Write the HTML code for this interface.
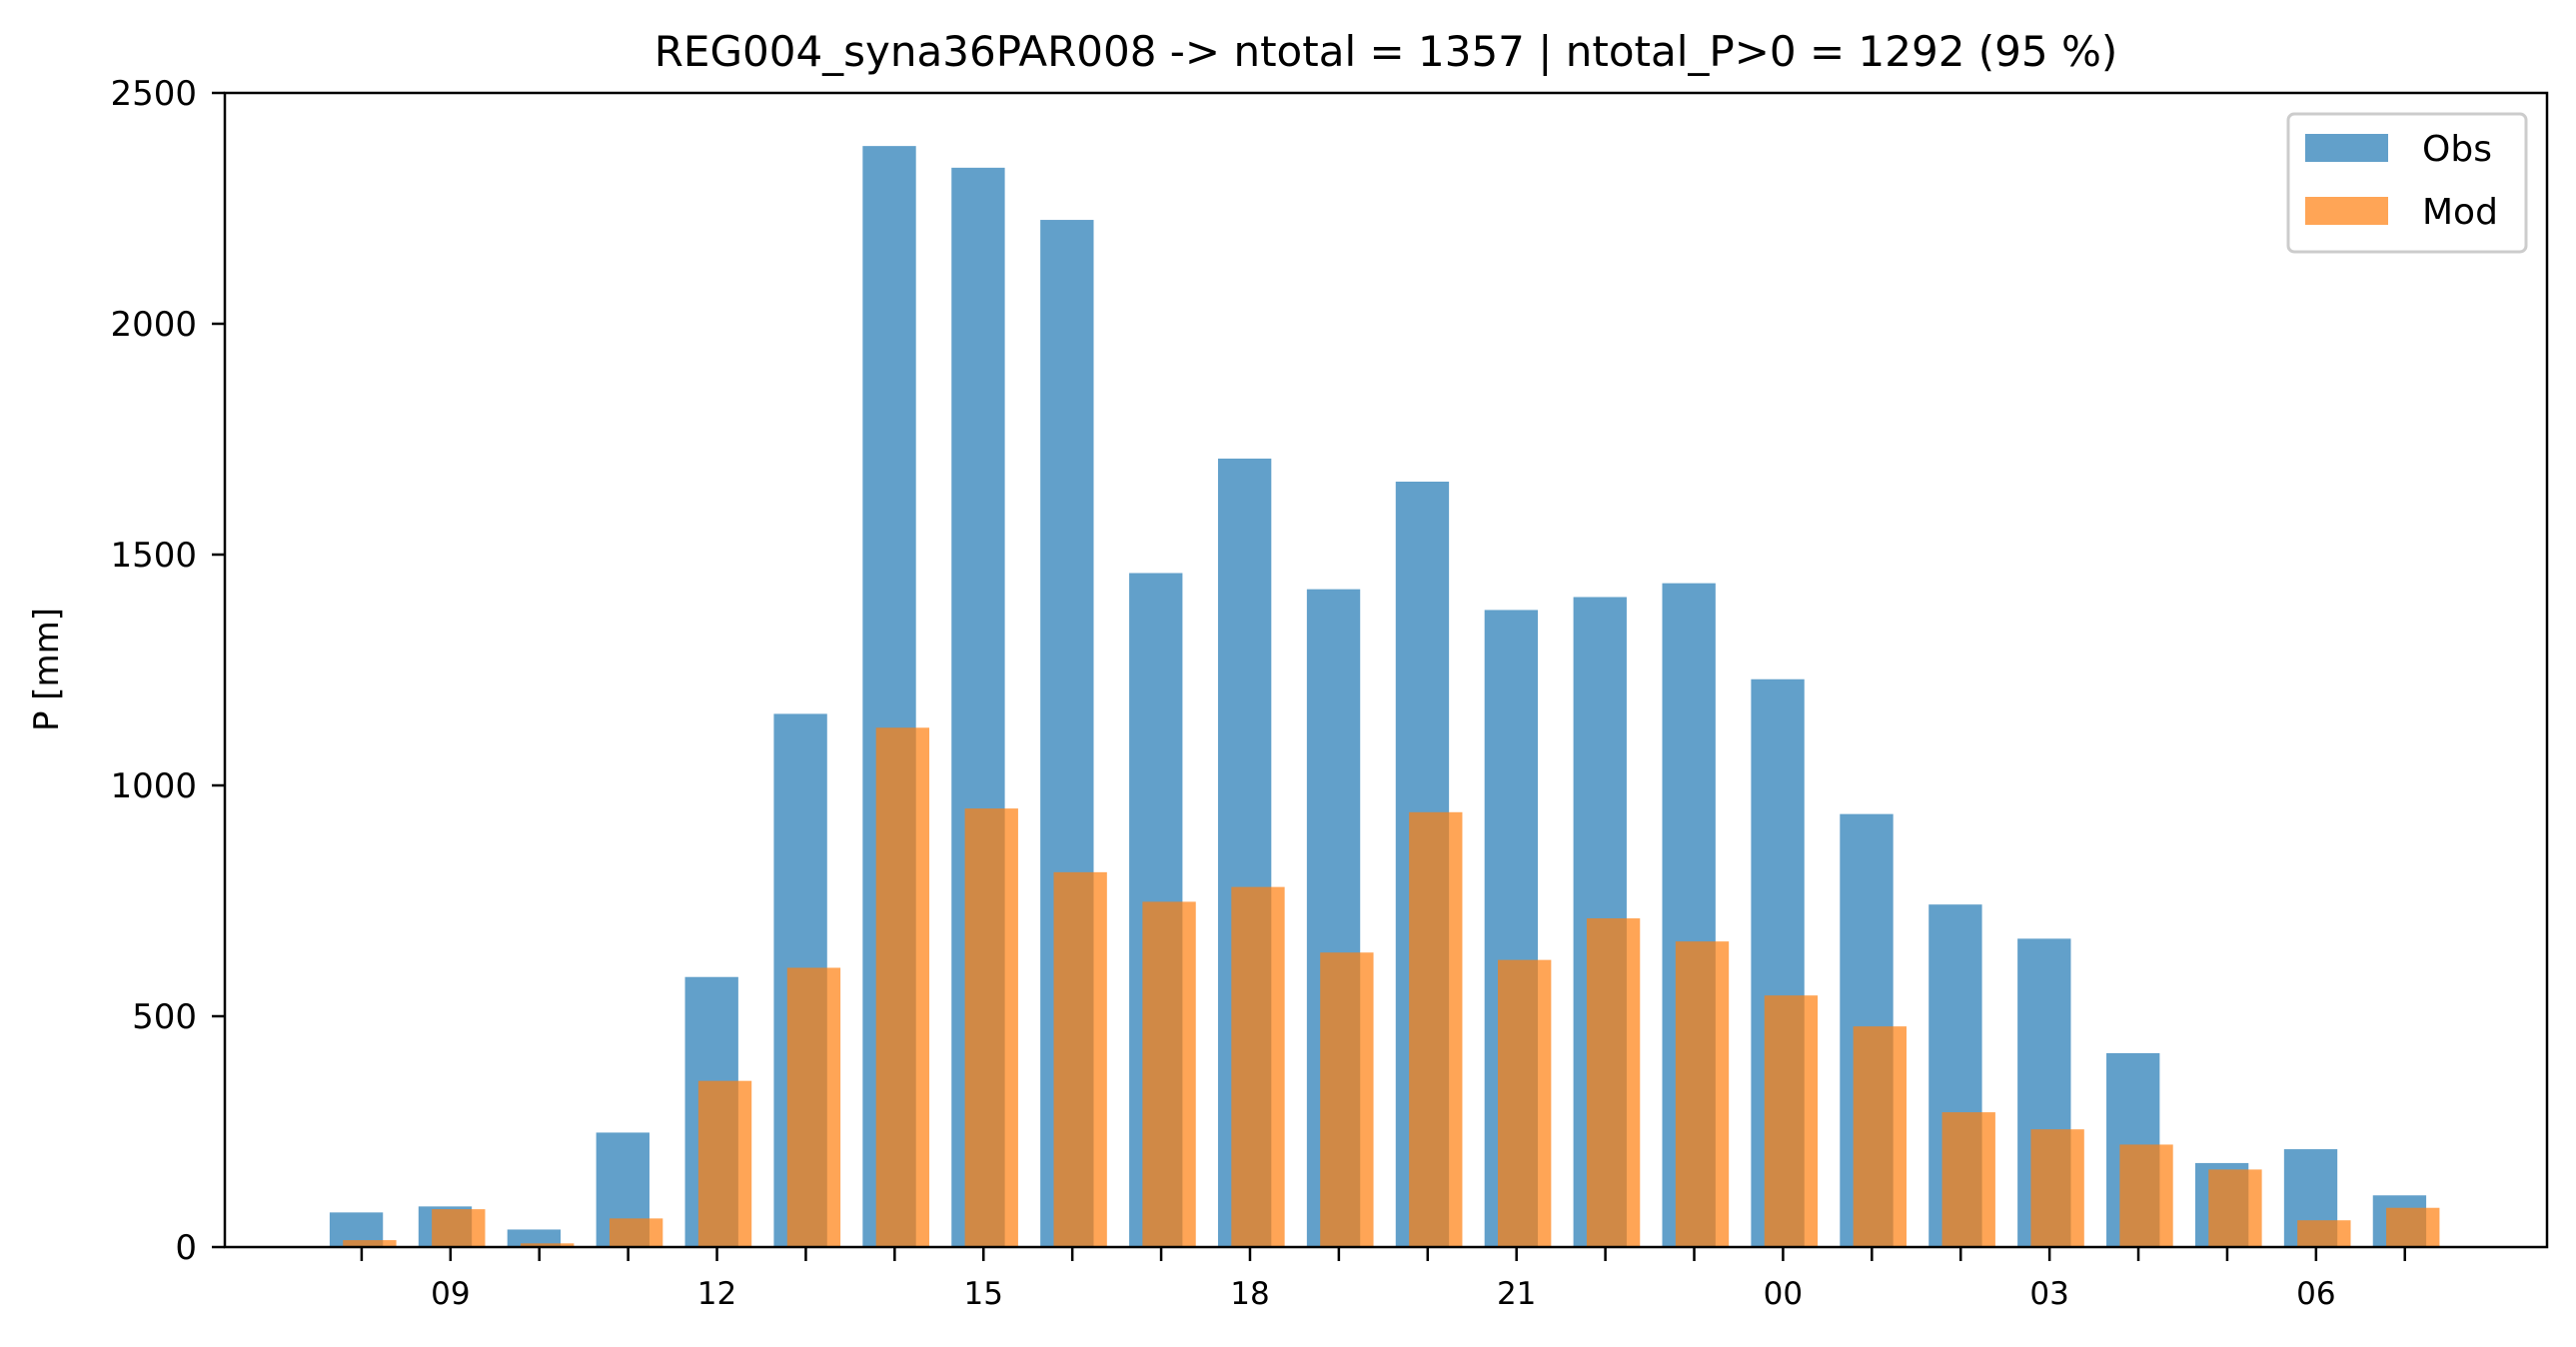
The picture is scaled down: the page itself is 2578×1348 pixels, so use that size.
<!DOCTYPE html>
<html><head><meta charset="utf-8"><style>
html,body{margin:0;padding:0;background:#fff;}
svg text{font-family:"DejaVu Sans","Liberation Sans",sans-serif;fill:#000;}
</style></head><body>
<svg id="chart" width="2578" height="1343" viewBox="0 0 2578 1343" xmlns="http://www.w3.org/2000/svg">
<rect width="2578" height="1343" fill="#fff"/>
<text x="1387" y="66" font-size="42" text-anchor="middle">REG004_syna36PAR008 -&gt; ntotal = 1357 | ntotal_P&gt;0 = 1292 (95 %)</text>
<text transform="translate(58,670) rotate(-90)" font-size="34" text-anchor="middle">P [mm]</text>
<g id="bars"></g>
<g id="axes"></g>
<g>
<rect x="2290" y="114" width="238" height="138" rx="6" fill="#fff" fill-opacity="0.8" stroke="#ccc" stroke-width="3"/>
<rect x="2307" y="134" width="83" height="28" fill="#1f77b4" fill-opacity="0.7"/>
<text x="2424" y="161" font-size="36">Obs</text>
<rect x="2307" y="197" width="83" height="28" fill="#ff7f0e" fill-opacity="0.7"/>
<text x="2424" y="224" font-size="36">Mod</text>
</g>
</svg>
<script>
const hours = ["08","09","10","11","12","13","14","15","16","17","18","19","20","21","22","23","00","01","02","03","04","05","06","07"];
const obsValues = [75,88,38,248,585,1155,2385,2338,2225,1460,1708,1425,1658,1380,1408,1438,1230,938,742,668,420,182,212,112];
const modValues = [15,82,8,62,360,605,1125,950,812,748,780,638,942,622,712,662,545,478,292,255,222,168,58,85];
const yTicks = [0,500,1000,1500,2000,2500];
const xLabelEvery = 3;

const L=225,R=2549,T=93,B=1248;
const xMin=-1.54,xMax=24.6,yMax=2500;
const xs=v=>L+(v-xMin)/(xMax-xMin)*(R-L);
const ys=v=>B-v/yMax*(B-T);
const NS="http://www.w3.org/2000/svg";
const bars=document.getElementById('bars');
const axes=document.getElementById('axes');
function mk(tag,attrs,parent){const e=document.createElementNS(NS,tag);for(const k in attrs)e.setAttribute(k,attrs[k]);parent.appendChild(e);return e;}
const bw=0.6;
obsValues.forEach((v,i)=>{
  const r=mk('rect',{x:xs(i-0.06-bw/2),y:ys(v),width:xs(bw)-xs(0),height:B-ys(v),fill:'#1f77b4','fill-opacity':0.7},bars);
  
  
});
modValues.forEach((v,i)=>{
  const r=mk('rect',{x:xs(i+0.09-bw/2),y:ys(v),width:xs(bw)-xs(0),height:B-ys(v),fill:'#ff7f0e','fill-opacity':0.7},bars);
  
  
});
const frame=mk('rect',{x:L,y:T,width:R-L,height:B-T,fill:'none',stroke:'#000','stroke-width':2.5},axes);


yTicks.forEach(v=>{
  const l=mk('line',{x1:L-13,x2:L,y1:ys(v),y2:ys(v),stroke:'#000','stroke-width':2.5},axes);
  
  
  const t=mk('text',{x:L-28,y:ys(v)+12,'font-size':34,'text-anchor':'end'},axes);
  t.textContent=v;
  
  
});
hours.forEach((h,i)=>{
  const l=mk('line',{x1:xs(i),x2:xs(i),y1:B,y2:B+14,stroke:'#000','stroke-width':2.5},axes);
  
  
  if(i%xLabelEvery===1){
    const t=mk('text',{x:xs(i),y:1305,'font-size':31,'text-anchor':'middle'},axes);
    t.textContent=h;
    
    
  }
});
</script>
</body></html>
